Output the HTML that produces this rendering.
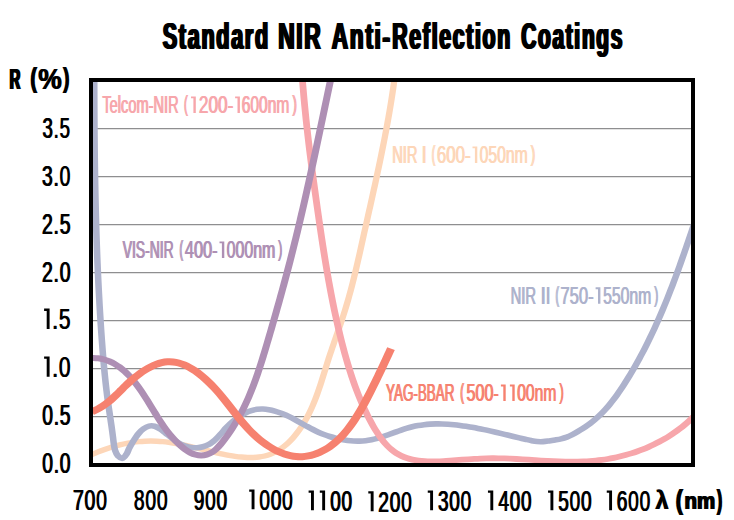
<!DOCTYPE html>
<html><head><meta charset="utf-8"><title>Standard NIR Anti-Reflection Coatings</title>
<style>
html,body{margin:0;padding:0;background:#fff;}
body{width:734px;height:520px;overflow:hidden;font-family:"Liberation Sans",sans-serif;}
svg{display:block;font-family:"Liberation Sans",sans-serif;}
</style></head><body>
<svg width="734" height="520" viewBox="0 0 734 520">
<rect x="0" y="0" width="734" height="520" fill="#fff"/>
<defs><clipPath id="plot"><rect x="91" y="80" width="602" height="385"/></clipPath></defs>
<g>
<line x1="93" x2="691" y1="416.5" y2="416.5" stroke="#8e8e90" stroke-width="1.25"/>
<line x1="93" x2="691" y1="368.5" y2="368.5" stroke="#8e8e90" stroke-width="1.25"/>
<line x1="93" x2="691" y1="320.5" y2="320.5" stroke="#8e8e90" stroke-width="1.25"/>
<line x1="93" x2="691" y1="272.5" y2="272.5" stroke="#8e8e90" stroke-width="1.25"/>
<line x1="93" x2="691" y1="224.5" y2="224.5" stroke="#8e8e90" stroke-width="1.25"/>
<line x1="93" x2="691" y1="176.5" y2="176.5" stroke="#8e8e90" stroke-width="1.25"/>
<line x1="93" x2="691" y1="128.5" y2="128.5" stroke="#8e8e90" stroke-width="1.25"/>
</g>
<g clip-path="url(#plot)"><g transform="scale(1.170,1)">
<path d="M78.54 454.52C79.34 454.13 81.73 452.90 83.34 452.14C84.96 451.38 86.59 450.65 88.23 449.96C89.87 449.26 91.52 448.60 93.18 447.98C94.84 447.35 96.52 446.76 98.20 446.22C99.87 445.67 101.56 445.16 103.26 444.69C104.95 444.22 106.65 443.80 108.36 443.41C110.06 443.03 111.77 442.69 113.49 442.39C115.20 442.10 116.91 441.85 118.63 441.65C120.35 441.45 122.06 441.29 123.78 441.19C125.50 441.09 127.21 441.03 128.93 441.03C130.64 441.03 132.35 441.08 134.06 441.19C135.76 441.29 137.47 441.44 139.17 441.64C140.87 441.83 142.57 442.07 144.27 442.35C145.97 442.62 147.67 442.94 149.37 443.28C151.06 443.62 152.76 444.00 154.46 444.40C156.15 444.79 157.85 445.22 159.55 445.66C161.25 446.10 162.95 446.56 164.65 447.02C166.35 447.49 168.06 447.98 169.76 448.46C171.47 448.94 173.18 449.43 174.89 449.92C176.61 450.41 178.32 450.90 180.04 451.37C181.76 451.85 183.49 452.32 185.22 452.78C186.95 453.23 188.69 453.68 190.43 454.09C192.17 454.51 193.92 454.92 195.67 455.28C197.43 455.65 199.18 456.00 200.94 456.29C202.69 456.58 204.44 456.84 206.18 457.04C207.92 457.23 209.66 457.38 211.38 457.45C213.09 457.53 214.80 457.54 216.49 457.47C218.17 457.39 219.84 457.25 221.47 457.00C223.11 456.76 224.73 456.43 226.31 455.99C227.89 455.55 229.44 455.01 230.95 454.36C232.46 453.70 233.94 452.93 235.37 452.06C236.81 451.19 238.21 450.20 239.58 449.14C240.94 448.08 242.27 446.91 243.56 445.67C244.85 444.43 246.10 443.10 247.31 441.71C248.53 440.32 249.70 438.85 250.84 437.32C251.98 435.80 253.08 434.21 254.15 432.58C255.21 430.94 256.24 429.25 257.22 427.53C258.21 425.81 259.16 424.04 260.07 422.25C260.98 420.46 261.85 418.63 262.69 416.79C263.52 414.96 264.32 413.10 265.08 411.23C265.84 409.36 266.56 407.47 267.26 405.58C267.96 403.68 268.62 401.77 269.27 399.86C269.91 397.94 270.53 396.01 271.13 394.08C271.73 392.15 272.30 390.21 272.86 388.26C273.43 386.32 273.97 384.37 274.51 382.42C275.05 380.47 275.58 378.51 276.10 376.56C276.63 374.61 277.14 372.65 277.66 370.70C278.18 368.75 278.69 366.80 279.21 364.86C279.73 362.92 280.26 360.98 280.79 359.05C281.33 357.12 281.87 355.20 282.42 353.28C282.97 351.37 283.52 349.45 284.08 347.55C284.64 345.64 285.21 343.74 285.77 341.83C286.33 339.93 286.90 338.03 287.46 336.14C288.03 334.24 288.59 332.34 289.15 330.44C289.71 328.55 290.27 326.65 290.83 324.75C291.38 322.85 291.93 320.95 292.46 319.04C293.00 317.14 293.54 315.23 294.06 313.32C294.58 311.40 295.09 309.49 295.59 307.56C296.09 305.64 296.58 303.71 297.06 301.77C297.54 299.84 298.01 297.90 298.47 295.96C298.93 294.01 299.38 292.06 299.83 290.11C300.27 288.16 300.71 286.20 301.14 284.24C301.57 282.28 301.99 280.32 302.40 278.35C302.82 276.39 303.23 274.42 303.63 272.45C304.04 270.48 304.44 268.50 304.83 266.53C305.23 264.55 305.62 262.58 306.01 260.60C306.40 258.62 306.78 256.64 307.16 254.66C307.54 252.68 307.92 250.69 308.30 248.71C308.68 246.73 309.06 244.75 309.43 242.76C309.81 240.78 310.18 238.80 310.56 236.82C310.94 234.84 311.31 232.85 311.69 230.87C312.07 228.89 312.45 226.91 312.82 224.94C313.20 222.96 313.58 220.98 313.96 219.00C314.34 217.02 314.71 215.05 315.09 213.07C315.47 211.09 315.85 209.12 316.23 207.14C316.60 205.16 316.98 203.19 317.35 201.21C317.73 199.24 318.11 197.26 318.48 195.29C318.85 193.31 319.23 191.34 319.60 189.36C319.97 187.38 320.34 185.41 320.71 183.43C321.08 181.46 321.44 179.48 321.81 177.51C322.17 175.53 322.54 173.55 322.90 171.58C323.26 169.60 323.62 167.62 323.97 165.65C324.33 163.67 324.68 161.69 325.03 159.71C325.39 157.73 325.73 155.75 326.08 153.77C326.43 151.79 326.77 149.81 327.11 147.83C327.45 145.85 327.79 143.87 328.12 141.89C328.45 139.90 328.78 137.92 329.11 135.93C329.43 133.95 329.76 131.96 330.07 129.97C330.39 127.99 330.71 126.00 331.02 124.01C331.33 122.02 331.63 120.03 331.94 118.04C332.24 116.04 332.53 114.05 332.83 112.06C333.12 110.06 333.41 108.06 333.69 106.07C333.97 104.07 334.25 102.07 334.52 100.07C334.79 98.06 335.06 96.06 335.32 94.06C335.58 92.05 335.84 90.04 336.09 88.04C336.34 86.03 336.58 84.02 336.82 82.00C337.06 79.99 337.40 76.97 337.52 75.96" fill="none" stroke="#FDD6B8" stroke-width="5.4" stroke-linejoin="round"/>
<path d="M80.53 75.97C80.54 76.99 80.54 80.03 80.55 82.05C80.55 84.08 80.56 86.10 80.56 88.13C80.57 90.15 80.57 92.18 80.58 94.20C80.58 96.22 80.59 98.25 80.60 100.27C80.60 102.29 80.61 104.31 80.62 106.33C80.63 108.36 80.64 110.38 80.65 112.40C80.66 114.42 80.67 116.44 80.68 118.45C80.69 120.47 80.70 122.49 80.71 124.51C80.73 126.53 80.74 128.55 80.75 130.56C80.77 132.58 80.78 134.60 80.80 136.61C80.81 138.63 80.83 140.65 80.85 142.66C80.87 144.68 80.88 146.69 80.90 148.71C80.92 150.72 80.94 152.74 80.96 154.75C80.98 156.77 81.01 158.78 81.03 160.80C81.05 162.81 81.08 164.82 81.10 166.84C81.13 168.85 81.15 170.87 81.18 172.88C81.21 174.89 81.24 176.90 81.27 178.92C81.30 180.93 81.33 182.94 81.36 184.96C81.39 186.97 81.43 188.98 81.46 190.99C81.50 193.00 81.53 195.02 81.57 197.03C81.61 199.04 81.65 201.05 81.69 203.07C81.73 205.08 81.77 207.09 81.81 209.10C81.85 211.11 81.90 213.13 81.94 215.14C81.99 217.15 82.04 219.16 82.08 221.17C82.13 223.19 82.18 225.20 82.23 227.21C82.29 229.22 82.34 231.23 82.39 233.25C82.45 235.26 82.51 237.27 82.56 239.29C82.62 241.30 82.68 243.31 82.74 245.32C82.80 247.34 82.87 249.35 82.93 251.36C83.00 253.38 83.06 255.39 83.13 257.41C83.20 259.42 83.27 261.43 83.34 263.45C83.42 265.46 83.49 267.48 83.56 269.49C83.64 271.51 83.72 273.52 83.80 275.54C83.88 277.55 83.96 279.57 84.04 281.59C84.13 283.60 84.21 285.62 84.30 287.64C84.39 289.65 84.48 291.67 84.57 293.69C84.66 295.71 84.75 297.73 84.85 299.74C84.94 301.76 85.04 303.78 85.14 305.80C85.24 307.82 85.34 309.84 85.45 311.86C85.55 313.89 85.66 315.91 85.77 317.93C85.88 319.95 85.99 321.97 86.10 324.00C86.22 326.02 86.33 328.04 86.45 330.07C86.57 332.09 86.69 334.12 86.81 336.14C86.93 338.17 87.06 340.19 87.19 342.22C87.32 344.25 87.45 346.27 87.58 348.30C87.71 350.33 87.85 352.35 87.99 354.38C88.13 356.40 88.28 358.42 88.43 360.44C88.57 362.46 88.73 364.48 88.89 366.49C89.04 368.51 89.20 370.52 89.37 372.52C89.54 374.53 89.71 376.53 89.89 378.53C90.07 380.53 90.25 382.52 90.44 384.51C90.63 386.50 90.83 388.48 91.03 390.46C91.23 392.43 91.44 394.40 91.66 396.36C91.87 398.32 92.10 400.27 92.32 402.22C92.55 404.17 92.79 406.11 93.03 408.05C93.27 410.00 93.52 411.94 93.76 413.89C94.01 415.84 94.26 417.79 94.51 419.76C94.75 421.74 95.00 423.71 95.25 425.72C95.49 427.72 95.74 429.74 95.97 431.79C96.21 433.83 96.44 435.91 96.67 438.01C96.90 440.11 97.05 442.30 97.34 444.40C97.63 446.49 97.86 448.67 98.42 450.57C98.98 452.47 99.66 454.50 100.71 455.80C101.75 457.10 103.44 458.63 104.68 458.35C105.92 458.07 107.18 455.82 108.15 454.11C109.12 452.41 109.71 449.96 110.51 448.12C111.31 446.28 112.11 444.73 112.96 443.07C113.80 441.40 114.65 439.80 115.60 438.15C116.55 436.51 117.51 434.75 118.67 433.20C119.83 431.65 121.13 430.05 122.57 428.87C124.01 427.69 125.71 426.55 127.32 426.11C128.92 425.67 130.62 425.75 132.21 426.23C133.80 426.71 135.35 427.91 136.86 429.00C138.37 430.10 139.82 431.52 141.26 432.81C142.69 434.10 144.08 435.48 145.48 436.77C146.88 438.06 148.25 439.37 149.67 440.54C151.08 441.72 152.50 442.86 153.98 443.80C155.46 444.75 156.97 445.59 158.55 446.22C160.13 446.84 161.79 447.28 163.45 447.53C165.11 447.77 166.83 447.83 168.51 447.70C170.18 447.56 171.87 447.24 173.48 446.72C175.09 446.21 176.69 445.50 178.16 444.61C179.64 443.71 181.02 442.59 182.35 441.36C183.67 440.13 184.88 438.69 186.10 437.23C187.32 435.77 188.46 434.17 189.66 432.61C190.85 431.04 192.02 429.41 193.26 427.87C194.50 426.32 195.78 424.79 197.10 423.36C198.43 421.92 199.80 420.54 201.21 419.26C202.61 417.98 204.06 416.76 205.55 415.68C207.03 414.60 208.55 413.60 210.10 412.75C211.64 411.91 213.23 411.17 214.83 410.60C216.43 410.03 218.07 409.59 219.72 409.33C221.37 409.08 223.06 409.00 224.74 409.06C226.42 409.12 228.13 409.35 229.82 409.68C231.51 410.01 233.21 410.49 234.88 411.04C236.56 411.59 238.23 412.26 239.86 412.97C241.49 413.69 243.09 414.49 244.67 415.32C246.25 416.15 247.79 417.05 249.33 417.96C250.87 418.88 252.38 419.84 253.89 420.80C255.40 421.77 256.89 422.76 258.40 423.74C259.90 424.72 261.39 425.72 262.90 426.68C264.41 427.64 265.92 428.60 267.46 429.52C268.99 430.43 270.54 431.32 272.11 432.15C273.68 432.98 275.28 433.77 276.90 434.49C278.52 435.22 280.17 435.89 281.83 436.50C283.49 437.11 285.17 437.67 286.85 438.17C288.54 438.67 290.24 439.12 291.94 439.50C293.64 439.88 295.34 440.21 297.05 440.46C298.75 440.71 300.47 440.89 302.17 441.00C303.88 441.10 305.59 441.14 307.29 441.09C309.00 441.03 310.70 440.90 312.39 440.67C314.08 440.45 315.77 440.12 317.45 439.72C319.12 439.33 320.79 438.83 322.46 438.29C324.13 437.76 325.79 437.14 327.44 436.51C329.10 435.87 330.76 435.18 332.41 434.50C334.06 433.81 335.71 433.09 337.37 432.39C339.02 431.70 340.67 430.99 342.33 430.33C343.99 429.67 345.65 429.01 347.31 428.43C348.98 427.84 350.65 427.29 352.32 426.82C354.00 426.35 355.68 425.94 357.37 425.59C359.05 425.24 360.75 424.95 362.44 424.71C364.14 424.47 365.84 424.30 367.54 424.16C369.24 424.03 370.95 423.95 372.66 423.92C374.37 423.88 376.08 423.89 377.79 423.95C379.50 424.00 381.22 424.09 382.93 424.22C384.65 424.35 386.36 424.52 388.07 424.72C389.79 424.92 391.50 425.16 393.21 425.42C394.93 425.68 396.64 425.97 398.35 426.28C400.05 426.60 401.76 426.94 403.46 427.29C405.17 427.65 406.87 428.02 408.56 428.41C410.26 428.80 411.95 429.21 413.63 429.63C415.32 430.04 417.00 430.47 418.68 430.91C420.36 431.35 422.04 431.79 423.72 432.25C425.40 432.70 427.07 433.16 428.74 433.62C430.42 434.09 432.09 434.56 433.77 435.03C435.44 435.50 437.12 435.97 438.79 436.44C440.47 436.91 442.15 437.38 443.83 437.85C445.51 438.32 447.20 438.78 448.88 439.24C450.57 439.69 452.26 440.19 453.96 440.58C455.66 440.97 457.36 441.38 459.06 441.56C460.77 441.73 462.48 441.74 464.19 441.64C465.91 441.53 467.62 441.20 469.34 440.92C471.05 440.65 472.78 440.33 474.49 439.99C476.19 439.66 477.90 439.37 479.57 438.89C481.23 438.41 482.88 437.84 484.48 437.13C486.08 436.41 487.64 435.51 489.18 434.60C490.72 433.69 492.23 432.68 493.73 431.66C495.23 430.65 496.70 429.61 498.15 428.53C499.60 427.44 501.03 426.33 502.42 425.16C503.81 424.00 505.18 422.79 506.51 421.54C507.84 420.29 509.13 418.99 510.40 417.65C511.67 416.31 512.90 414.92 514.10 413.51C515.31 412.09 516.48 410.62 517.63 409.13C518.78 407.64 519.90 406.12 521.00 404.56C522.10 403.01 523.18 401.43 524.23 399.82C525.28 398.22 526.31 396.59 527.32 394.94C528.34 393.29 529.33 391.62 530.30 389.94C531.28 388.25 532.23 386.55 533.18 384.84C534.12 383.14 535.05 381.41 535.97 379.69C536.89 377.96 537.79 376.23 538.68 374.49C539.57 372.76 540.46 371.01 541.32 369.26C542.19 367.51 543.05 365.76 543.90 364.00C544.75 362.24 545.58 360.47 546.41 358.70C547.23 356.93 548.05 355.15 548.85 353.37C549.66 351.59 550.45 349.80 551.23 348.01C552.02 346.22 552.79 344.42 553.56 342.62C554.32 340.81 555.08 339.01 555.83 337.20C556.57 335.38 557.31 333.57 558.04 331.75C558.77 329.93 559.49 328.10 560.20 326.27C560.91 324.44 561.62 322.61 562.31 320.77C563.01 318.93 563.70 317.09 564.38 315.25C565.06 313.40 565.74 311.55 566.40 309.70C567.07 307.85 567.73 305.99 568.38 304.13C569.04 302.27 569.68 300.40 570.32 298.54C570.97 296.67 571.60 294.80 572.23 292.93C572.86 291.05 573.48 289.18 574.10 287.30C574.72 285.42 575.33 283.53 575.94 281.65C576.55 279.76 577.15 277.87 577.75 275.98C578.35 274.09 578.94 272.20 579.53 270.30C580.12 268.41 580.71 266.51 581.29 264.61C581.87 262.71 582.45 260.81 583.02 258.90C583.60 257.00 584.17 255.09 584.74 253.18C585.31 251.27 585.87 249.36 586.44 247.45C587.00 245.54 587.56 243.62 588.12 241.71C588.68 239.79 589.24 237.88 589.80 235.96C590.35 234.04 590.90 232.12 591.46 230.20C592.01 228.28 592.84 225.40 593.11 224.44" fill="none" stroke="#ADB2CC" stroke-width="5.6" stroke-linejoin="round"/>
<path d="M258.27 76.01C258.33 77.02 258.52 80.05 258.65 82.07C258.79 84.09 258.93 86.11 259.07 88.13C259.21 90.15 259.36 92.17 259.51 94.19C259.66 96.21 259.81 98.23 259.97 100.25C260.13 102.26 260.29 104.28 260.46 106.30C260.63 108.32 260.80 110.34 260.97 112.35C261.14 114.37 261.32 116.39 261.50 118.41C261.68 120.42 261.87 122.44 262.05 124.46C262.24 126.47 262.43 128.49 262.62 130.50C262.82 132.52 263.01 134.53 263.21 136.55C263.41 138.56 263.62 140.58 263.82 142.59C264.03 144.61 264.23 146.62 264.44 148.64C264.65 150.65 264.87 152.67 265.08 154.68C265.30 156.69 265.52 158.71 265.74 160.72C265.96 162.73 266.18 164.74 266.40 166.76C266.63 168.77 266.85 170.78 267.08 172.79C267.31 174.81 267.54 176.82 267.77 178.83C268.00 180.84 268.23 182.85 268.47 184.86C268.70 186.87 268.94 188.88 269.18 190.89C269.41 192.90 269.65 194.91 269.89 196.92C270.13 198.93 270.37 200.94 270.61 202.95C270.86 204.96 271.10 206.97 271.34 208.98C271.59 210.99 271.83 213.00 272.08 215.00C272.32 217.01 272.57 219.02 272.82 221.03C273.07 223.04 273.32 225.04 273.57 227.05C273.82 229.06 274.07 231.06 274.33 233.07C274.58 235.07 274.84 237.08 275.10 239.08C275.36 241.09 275.62 243.09 275.88 245.09C276.15 247.10 276.41 249.10 276.68 251.10C276.95 253.10 277.23 255.10 277.50 257.11C277.78 259.11 278.06 261.11 278.34 263.10C278.62 265.10 278.91 267.10 279.20 269.10C279.48 271.10 279.78 273.09 280.08 275.09C280.37 277.08 280.67 279.08 280.98 281.07C281.29 283.06 281.60 285.06 281.91 287.05C282.23 289.04 282.54 291.03 282.87 293.02C283.19 295.01 283.52 296.99 283.86 298.98C284.19 300.97 284.53 302.95 284.88 304.94C285.22 306.92 285.57 308.90 285.93 310.89C286.29 312.87 286.65 314.85 287.02 316.83C287.38 318.81 287.76 320.78 288.14 322.76C288.52 324.73 288.91 326.71 289.30 328.68C289.70 330.66 290.10 332.63 290.51 334.60C290.91 336.57 291.33 338.53 291.75 340.50C292.17 342.47 292.60 344.43 293.04 346.40C293.48 348.36 293.93 350.32 294.38 352.28C294.84 354.23 295.30 356.19 295.78 358.14C296.25 360.09 296.74 362.04 297.24 363.99C297.73 365.93 298.24 367.87 298.76 369.81C299.28 371.75 299.81 373.68 300.36 375.61C300.91 377.54 301.47 379.46 302.04 381.38C302.61 383.30 303.20 385.21 303.80 387.12C304.41 389.03 305.02 390.93 305.66 392.83C306.29 394.73 306.94 396.62 307.61 398.50C308.28 400.38 308.96 402.26 309.66 404.13C310.37 406.00 311.09 407.86 311.83 409.72C312.57 411.57 313.32 413.42 314.10 415.26C314.88 417.10 315.68 418.93 316.50 420.75C317.32 422.57 318.16 424.39 319.03 426.18C319.90 427.97 320.79 429.74 321.72 431.47C322.64 433.20 323.60 434.91 324.59 436.55C325.59 438.19 326.62 439.80 327.70 441.33C328.77 442.86 329.89 444.34 331.05 445.74C332.22 447.13 333.43 448.46 334.69 449.69C335.96 450.91 337.28 452.06 338.65 453.10C340.03 454.13 341.47 455.07 342.96 455.89C344.46 456.72 346.02 457.42 347.62 458.04C349.22 458.65 350.88 459.16 352.56 459.59C354.24 460.02 355.97 460.35 357.70 460.62C359.44 460.89 361.20 461.07 362.97 461.21C364.73 461.34 366.52 461.40 368.31 461.43C370.10 461.45 371.90 461.41 373.70 461.35C375.49 461.29 377.30 461.18 379.09 461.07C380.89 460.95 382.69 460.80 384.47 460.65C386.25 460.50 388.03 460.34 389.79 460.18C391.55 460.02 393.30 459.87 395.04 459.71C396.78 459.56 398.51 459.42 400.23 459.28C401.96 459.14 403.67 459.01 405.39 458.90C407.10 458.78 408.80 458.67 410.51 458.58C412.22 458.50 413.92 458.42 415.63 458.37C417.34 458.32 419.04 458.28 420.75 458.27C422.46 458.26 424.18 458.27 425.90 458.30C427.62 458.33 429.34 458.38 431.06 458.44C432.78 458.51 434.51 458.59 436.24 458.68C437.97 458.77 439.70 458.87 441.43 458.98C443.16 459.09 444.90 459.21 446.64 459.34C448.37 459.46 450.11 459.60 451.85 459.73C453.59 459.86 455.33 460.00 457.07 460.13C458.81 460.27 460.55 460.40 462.30 460.53C464.04 460.66 465.78 460.78 467.53 460.90C469.27 461.02 471.01 461.13 472.76 461.23C474.50 461.32 476.24 461.41 477.98 461.49C479.73 461.56 481.47 461.62 483.21 461.66C484.95 461.71 486.69 461.73 488.43 461.74C490.17 461.74 491.90 461.73 493.64 461.69C495.37 461.65 497.11 461.59 498.84 461.49C500.57 461.40 502.30 461.29 504.03 461.14C505.75 460.99 507.48 460.81 509.20 460.60C510.92 460.39 512.64 460.15 514.35 459.88C516.06 459.61 517.77 459.31 519.47 458.97C521.18 458.64 522.88 458.27 524.57 457.87C526.26 457.47 527.94 457.04 529.62 456.57C531.30 456.11 532.97 455.61 534.63 455.08C536.29 454.55 537.95 453.99 539.59 453.39C541.24 452.79 542.87 452.16 544.50 451.49C546.12 450.83 547.73 450.13 549.34 449.39C550.94 448.66 552.53 447.89 554.11 447.08C555.69 446.28 557.26 445.44 558.81 444.57C560.36 443.69 561.91 442.78 563.43 441.83C564.96 440.89 566.47 439.90 567.97 438.88C569.46 437.87 570.94 436.81 572.41 435.72C573.87 434.62 575.32 433.49 576.75 432.33C578.19 431.16 579.60 429.96 581.00 428.71C582.39 427.47 583.77 426.19 585.13 424.87C586.49 423.55 587.83 422.20 589.15 420.80C590.46 419.41 592.39 417.22 593.04 416.50" fill="none" stroke="#F7A6AB" stroke-width="5.8" stroke-linejoin="round"/>
<path d="M78.52 357.91C79.42 357.98 82.19 358.03 83.94 358.30C85.70 358.56 87.39 358.98 89.03 359.51C90.67 360.04 92.26 360.71 93.79 361.48C95.33 362.25 96.82 363.15 98.26 364.13C99.70 365.12 101.10 366.21 102.45 367.38C103.81 368.56 105.12 369.83 106.39 371.16C107.67 372.50 108.90 373.92 110.11 375.40C111.31 376.87 112.47 378.42 113.61 380.01C114.75 381.59 115.86 383.24 116.94 384.92C118.02 386.59 119.07 388.31 120.11 390.05C121.14 391.79 122.15 393.56 123.14 395.34C124.13 397.11 125.10 398.91 126.06 400.70C127.01 402.49 127.95 404.28 128.89 406.06C129.82 407.84 130.73 409.61 131.66 411.36C132.58 413.11 133.49 414.86 134.42 416.58C135.35 418.30 136.28 420.01 137.23 421.70C138.19 423.39 139.15 425.06 140.15 426.70C141.14 428.35 142.15 429.98 143.21 431.57C144.26 433.17 145.34 434.74 146.47 436.29C147.60 437.83 148.77 439.35 150.00 440.83C151.22 442.31 152.49 443.78 153.83 445.18C155.16 446.59 156.56 448.01 158.00 449.25C159.45 450.48 160.95 451.68 162.48 452.59C164.02 453.51 165.61 454.25 167.20 454.73C168.79 455.20 170.42 455.45 172.00 455.44C173.58 455.43 175.18 455.18 176.70 454.67C178.21 454.17 179.69 453.38 181.09 452.39C182.48 451.40 183.80 450.10 185.08 448.72C186.35 447.34 187.55 445.73 188.72 444.12C189.90 442.51 191.02 440.78 192.11 439.08C193.21 437.38 194.27 435.66 195.30 433.93C196.33 432.20 197.33 430.45 198.30 428.70C199.27 426.94 200.21 425.17 201.12 423.39C202.04 421.61 202.92 419.82 203.78 418.02C204.64 416.22 205.47 414.40 206.28 412.58C207.09 410.75 207.88 408.92 208.64 407.08C209.41 405.23 210.15 403.38 210.87 401.52C211.59 399.66 212.29 397.79 212.97 395.91C213.65 394.04 214.31 392.15 214.96 390.26C215.61 388.37 216.24 386.47 216.85 384.56C217.47 382.65 218.06 380.74 218.65 378.82C219.24 376.91 219.81 374.98 220.37 373.06C220.94 371.13 221.48 369.19 222.03 367.26C222.57 365.32 223.10 363.38 223.62 361.44C224.15 359.49 224.66 357.54 225.17 355.59C225.68 353.64 226.18 351.69 226.69 349.74C227.19 347.78 227.68 345.83 228.17 343.87C228.67 341.91 229.16 339.95 229.65 338.00C230.14 336.04 230.63 334.08 231.12 332.12C231.60 330.16 232.09 328.20 232.57 326.24C233.06 324.28 233.54 322.32 234.02 320.35C234.51 318.39 234.99 316.43 235.47 314.47C235.94 312.50 236.42 310.54 236.90 308.57C237.37 306.61 237.84 304.64 238.32 302.68C238.79 300.71 239.26 298.75 239.72 296.78C240.19 294.81 240.66 292.84 241.12 290.88C241.58 288.91 242.04 286.94 242.50 284.97C242.96 283.00 243.41 281.03 243.87 279.05C244.32 277.08 244.77 275.11 245.22 273.14C245.67 271.16 246.11 269.19 246.55 267.22C247.00 265.24 247.43 263.26 247.87 261.29C248.31 259.31 248.74 257.33 249.17 255.36C249.60 253.38 250.03 251.40 250.46 249.42C250.88 247.44 251.30 245.46 251.72 243.48C252.14 241.49 252.56 239.51 252.97 237.53C253.39 235.55 253.80 233.56 254.21 231.58C254.62 229.59 255.03 227.61 255.43 225.62C255.84 223.64 256.24 221.65 256.64 219.66C257.04 217.68 257.44 215.69 257.83 213.70C258.23 211.71 258.62 209.72 259.02 207.73C259.41 205.74 259.80 203.75 260.19 201.76C260.58 199.77 260.96 197.78 261.35 195.79C261.73 193.80 262.11 191.81 262.49 189.81C262.88 187.82 263.26 185.83 263.63 183.84C264.01 181.84 264.39 179.85 264.76 177.85C265.14 175.86 265.51 173.86 265.89 171.87C266.26 169.87 266.63 167.88 267.00 165.88C267.37 163.89 267.74 161.89 268.11 159.90C268.48 157.90 268.84 155.90 269.21 153.91C269.57 151.91 269.94 149.91 270.30 147.92C270.67 145.92 271.03 143.92 271.39 141.92C271.76 139.93 272.12 137.93 272.48 135.93C272.84 133.93 273.20 131.93 273.56 129.94C273.92 127.94 274.28 125.94 274.64 123.94C275.00 121.94 275.36 119.94 275.72 117.95C276.08 115.95 276.44 113.95 276.80 111.95C277.15 109.95 277.51 107.95 277.87 105.95C278.23 103.96 278.59 101.96 278.95 99.96C279.31 97.96 279.66 95.96 280.02 93.96C280.38 91.97 280.74 89.97 281.10 87.97C281.46 85.97 281.82 83.97 282.18 81.98C282.54 79.98 283.08 76.98 283.26 75.98" fill="none" stroke="#AE8FB4" stroke-width="6.0" stroke-linejoin="round"/>
<path d="M78.62 411.68C79.43 411.26 81.93 410.06 83.47 409.12C85.02 408.18 86.48 407.14 87.90 406.04C89.32 404.94 90.67 403.76 92.00 402.53C93.33 401.31 94.60 400.02 95.87 398.70C97.14 397.37 98.37 396.00 99.61 394.61C100.84 393.22 102.06 391.79 103.30 390.36C104.55 388.93 105.78 387.48 107.06 386.04C108.34 384.60 109.63 383.15 110.98 381.73C112.32 380.32 113.70 378.90 115.12 377.54C116.54 376.18 117.99 374.84 119.47 373.58C120.95 372.32 122.47 371.10 124.00 369.99C125.53 368.87 127.10 367.82 128.67 366.89C130.24 365.95 131.83 365.11 133.43 364.40C135.03 363.70 136.65 363.10 138.26 362.67C139.87 362.24 141.50 361.94 143.12 361.82C144.73 361.70 146.35 361.75 147.96 361.95C149.57 362.15 151.18 362.53 152.77 363.04C154.36 363.54 155.94 364.20 157.50 364.96C159.07 365.72 160.62 366.62 162.15 367.60C163.67 368.58 165.18 369.68 166.67 370.85C168.15 372.01 169.61 373.28 171.04 374.59C172.46 375.90 173.86 377.29 175.23 378.70C176.59 380.12 177.92 381.59 179.22 383.08C180.51 384.56 181.76 386.08 182.98 387.61C184.20 389.14 185.38 390.68 186.54 392.24C187.70 393.80 188.82 395.37 189.94 396.95C191.05 398.53 192.14 400.12 193.22 401.70C194.30 403.29 195.36 404.89 196.42 406.48C197.49 408.07 198.54 409.66 199.59 411.24C200.65 412.82 201.70 414.40 202.77 415.96C203.84 417.53 204.91 419.08 206.00 420.62C207.09 422.16 208.19 423.68 209.31 425.18C210.44 426.68 211.59 428.16 212.76 429.62C213.94 431.07 215.14 432.50 216.39 433.90C217.63 435.30 218.91 436.67 220.23 438.00C221.55 439.34 222.91 440.64 224.33 441.90C225.74 443.15 227.20 444.38 228.70 445.54C230.20 446.69 231.75 447.81 233.32 448.83C234.89 449.85 236.50 450.82 238.13 451.68C239.75 452.53 241.41 453.32 243.08 453.98C244.75 454.64 246.44 455.21 248.13 455.64C249.83 456.07 251.53 456.39 253.24 456.55C254.94 456.72 256.65 456.75 258.34 456.64C260.04 456.53 261.73 456.28 263.40 455.91C265.07 455.55 266.73 455.05 268.36 454.46C269.98 453.86 271.59 453.14 273.16 452.34C274.72 451.54 276.26 450.63 277.75 449.64C279.24 448.66 280.68 447.58 282.09 446.44C283.49 445.30 284.85 444.08 286.17 442.79C287.49 441.51 288.76 440.15 290.00 438.74C291.25 437.33 292.45 435.86 293.62 434.34C294.79 432.82 295.92 431.24 297.02 429.63C298.13 428.02 299.20 426.36 300.24 424.67C301.28 422.98 302.29 421.25 303.27 419.50C304.26 417.75 305.21 415.97 306.15 414.18C307.08 412.39 307.99 410.57 308.88 408.75C309.77 406.93 310.64 405.09 311.48 403.26C312.33 401.43 313.16 399.58 313.97 397.76C314.79 395.93 315.58 394.10 316.37 392.29C317.15 390.48 317.92 388.69 318.68 386.90C319.44 385.11 320.19 383.34 320.94 381.56C321.68 379.78 322.41 378.01 323.15 376.23C323.88 374.45 324.60 372.68 325.33 370.88C326.06 369.09 326.78 367.30 327.51 365.48C328.24 363.67 328.96 361.84 329.70 359.99C330.43 358.14 331.17 356.28 331.92 354.38C332.67 352.48 333.81 349.57 334.19 348.61" fill="none" stroke="#F6816F" stroke-width="7.0" stroke-linejoin="round"/>
</g></g>
<rect x="91" y="80" width="602" height="385" fill="none" stroke="#000" stroke-width="4"/>
<g>
<text transform="translate(161.75,48.80) scale(0.1079,0.1855)" font-size="200" fill="#000" font-weight="bold" letter-spacing="15.76">Standard</text>
<text transform="translate(162.75,48.80) scale(0.1079,0.1855)" font-size="200" fill="#000" font-weight="bold" letter-spacing="15.76">Standard</text>
<text transform="translate(163.75,48.80) scale(0.1079,0.1855)" font-size="200" fill="#000" font-weight="bold" letter-spacing="15.76">Standard</text>
<text transform="translate(277.22,48.80) scale(0.1138,0.1855)" font-size="200" fill="#000" font-weight="bold" letter-spacing="14.94">NIR</text>
<text transform="translate(278.22,48.80) scale(0.1138,0.1855)" font-size="200" fill="#000" font-weight="bold" letter-spacing="14.94">NIR</text>
<text transform="translate(279.22,48.80) scale(0.1138,0.1855)" font-size="200" fill="#000" font-weight="bold" letter-spacing="14.94">NIR</text>
<text transform="translate(330.83,48.80) scale(0.1131,0.1855)" font-size="200" fill="#000" font-weight="bold" letter-spacing="15.03">Anti-</text>
<text transform="translate(331.83,48.80) scale(0.1131,0.1855)" font-size="200" fill="#000" font-weight="bold" letter-spacing="15.03">Anti-</text>
<text transform="translate(332.83,48.80) scale(0.1131,0.1855)" font-size="200" fill="#000" font-weight="bold" letter-spacing="15.03">Anti-</text>
<text transform="translate(391.32,48.80) scale(0.1062,0.1855)" font-size="200" fill="#000" font-weight="bold" letter-spacing="16.01">Reflection</text>
<text transform="translate(392.32,48.80) scale(0.1062,0.1855)" font-size="200" fill="#000" font-weight="bold" letter-spacing="16.01">Reflection</text>
<text transform="translate(393.32,48.80) scale(0.1062,0.1855)" font-size="200" fill="#000" font-weight="bold" letter-spacing="16.01">Reflection</text>
<text transform="translate(520.16,48.80) scale(0.1045,0.1855)" font-size="200" fill="#000" font-weight="bold" letter-spacing="16.26">Coatings</text>
<text transform="translate(521.16,48.80) scale(0.1045,0.1855)" font-size="200" fill="#000" font-weight="bold" letter-spacing="16.26">Coatings</text>
<text transform="translate(522.16,48.80) scale(0.1045,0.1855)" font-size="200" fill="#000" font-weight="bold" letter-spacing="16.26">Coatings</text>
<text transform="translate(8.64,88.80) scale(0.0740,0.1457)" font-size="200" fill="#000" font-weight="bold">R</text>
<text transform="translate(9.54,88.80) scale(0.0740,0.1457)" font-size="200" fill="#000" font-weight="bold">R</text>
<text transform="translate(10.44,88.80) scale(0.0740,0.1457)" font-size="200" fill="#000" font-weight="bold">R</text>
<text transform="translate(29.82,87.09) scale(0.0982,0.1337)" font-size="200" fill="#000" font-weight="bold">(</text>
<text transform="translate(31.02,87.09) scale(0.0982,0.1337)" font-size="200" fill="#000" font-weight="bold">(</text>
<text transform="translate(37.84,88.71) scale(0.1321,0.1461)" font-size="200" fill="#000" font-weight="bold">%</text>
<text transform="translate(38.64,88.71) scale(0.1321,0.1461)" font-size="200" fill="#000" font-weight="bold">%</text>
<text transform="translate(62.40,87.09) scale(0.0982,0.1337)" font-size="200" fill="#000" font-weight="bold">)</text>
<text transform="translate(63.60,87.09) scale(0.0982,0.1337)" font-size="200" fill="#000" font-weight="bold">)</text>
<text transform="translate(41.73,472.70) scale(0.0962,0.1500)" font-size="200" fill="#000" letter-spacing="8.32">0.0</text>
<text transform="translate(42.63,472.70) scale(0.0962,0.1500)" font-size="200" fill="#000" letter-spacing="8.32">0.0</text>
<text transform="translate(41.73,424.90) scale(0.0962,0.1500)" font-size="200" fill="#000" letter-spacing="8.32">0.5</text>
<text transform="translate(42.63,424.90) scale(0.0962,0.1500)" font-size="200" fill="#000" letter-spacing="8.32">0.5</text>
<path d="M44.10 356.40H49.60V376.80H46.70V358.70H44.10Z" fill="#000"/>
<text transform="translate(51.82,377.10) scale(0.1043,0.1500)" font-size="200" fill="#000" letter-spacing="7.67">.0</text>
<text transform="translate(52.72,377.10) scale(0.1043,0.1500)" font-size="200" fill="#000" letter-spacing="7.67">.0</text>
<path d="M44.10 308.60H49.60V329.00H46.70V310.90H44.10Z" fill="#000"/>
<text transform="translate(51.82,329.30) scale(0.1043,0.1500)" font-size="200" fill="#000" letter-spacing="7.67">.5</text>
<text transform="translate(52.72,329.30) scale(0.1043,0.1500)" font-size="200" fill="#000" letter-spacing="7.67">.5</text>
<text transform="translate(41.53,281.50) scale(0.0969,0.1500)" font-size="200" fill="#000" letter-spacing="8.25">2.0</text>
<text transform="translate(42.43,281.50) scale(0.0969,0.1500)" font-size="200" fill="#000" letter-spacing="8.25">2.0</text>
<text transform="translate(41.53,233.70) scale(0.0969,0.1500)" font-size="200" fill="#000" letter-spacing="8.25">2.5</text>
<text transform="translate(42.43,233.70) scale(0.0969,0.1500)" font-size="200" fill="#000" letter-spacing="8.25">2.5</text>
<text transform="translate(41.53,185.90) scale(0.0962,0.1500)" font-size="200" fill="#000" letter-spacing="8.32">3.0</text>
<text transform="translate(42.43,185.90) scale(0.0962,0.1500)" font-size="200" fill="#000" letter-spacing="8.32">3.0</text>
<text transform="translate(42.05,138.10) scale(0.0931,0.1500)" font-size="200" fill="#000" letter-spacing="8.59">3.5</text>
<text transform="translate(42.95,138.10) scale(0.0931,0.1500)" font-size="200" fill="#000" letter-spacing="8.59">3.5</text>
<text transform="translate(72.53,509.50) scale(0.0971,0.1450)" font-size="200" fill="#000" letter-spacing="8.24">700</text>
<text transform="translate(73.43,509.50) scale(0.0971,0.1450)" font-size="200" fill="#000" letter-spacing="8.24">700</text>
<text transform="translate(133.43,509.50) scale(0.0962,0.1450)" font-size="200" fill="#000" letter-spacing="8.32">800</text>
<text transform="translate(134.33,509.50) scale(0.0962,0.1450)" font-size="200" fill="#000" letter-spacing="8.32">800</text>
<text transform="translate(193.24,509.50) scale(0.0953,0.1450)" font-size="200" fill="#000" letter-spacing="8.40">900</text>
<text transform="translate(194.14,509.50) scale(0.0953,0.1450)" font-size="200" fill="#000" letter-spacing="8.40">900</text>
<path d="M249.20 489.50H254.50V509.20H251.60V491.80H249.20Z" fill="#000"/>
<text transform="translate(258.94,509.50) scale(0.0950,0.1450)" font-size="200" fill="#000" letter-spacing="8.43">000</text>
<text transform="translate(259.84,509.50) scale(0.0950,0.1450)" font-size="200" fill="#000" letter-spacing="8.43">000</text>
<path d="M308.60 490.50H313.90V510.30H311.00V492.80H308.60Z" fill="#000"/>
<path d="M319.80 490.50H325.10V510.30H322.20V492.80H319.80Z" fill="#000"/>
<text transform="translate(329.74,510.60) scale(0.0947,0.1457)" font-size="200" fill="#000" letter-spacing="8.45">00</text>
<text transform="translate(330.64,510.60) scale(0.0947,0.1457)" font-size="200" fill="#000" letter-spacing="8.45">00</text>
<path d="M368.30 491.30H373.60V511.20H370.70V493.60H368.30Z" fill="#000"/>
<text transform="translate(377.84,511.50) scale(0.0956,0.1464)" font-size="200" fill="#000" letter-spacing="8.37">200</text>
<text transform="translate(378.74,511.50) scale(0.0956,0.1464)" font-size="200" fill="#000" letter-spacing="8.37">200</text>
<path d="M427.75 490.50H433.05V510.30H430.15V492.80H427.75Z" fill="#000"/>
<text transform="translate(437.49,510.60) scale(0.0950,0.1457)" font-size="200" fill="#000" letter-spacing="8.43">300</text>
<text transform="translate(438.39,510.60) scale(0.0950,0.1457)" font-size="200" fill="#000" letter-spacing="8.43">300</text>
<path d="M487.95 490.50H493.25V510.30H490.35V492.80H487.95Z" fill="#000"/>
<text transform="translate(497.98,510.60) scale(0.0941,0.1457)" font-size="200" fill="#000" letter-spacing="8.50">400</text>
<text transform="translate(498.88,510.60) scale(0.0941,0.1457)" font-size="200" fill="#000" letter-spacing="8.50">400</text>
<path d="M548.05 490.50H553.35V510.30H550.45V492.80H548.05Z" fill="#000"/>
<text transform="translate(557.79,510.60) scale(0.0950,0.1457)" font-size="200" fill="#000" letter-spacing="8.43">500</text>
<text transform="translate(558.69,510.60) scale(0.0950,0.1457)" font-size="200" fill="#000" letter-spacing="8.43">500</text>
<path d="M606.75 490.50H612.05V510.30H609.15V492.80H606.75Z" fill="#000"/>
<text transform="translate(616.29,510.60) scale(0.0956,0.1457)" font-size="200" fill="#000" letter-spacing="8.37">600</text>
<text transform="translate(617.19,510.60) scale(0.0956,0.1457)" font-size="200" fill="#000" letter-spacing="8.37">600</text>
<text transform="translate(654.88,509.30) scale(0.1168,0.1273)" font-size="200" fill="#000" font-weight="bold">λ</text>
<text transform="translate(655.88,509.30) scale(0.1168,0.1273)" font-size="200" fill="#000" font-weight="bold">λ</text>
<text transform="translate(674.99,508.59) scale(0.1107,0.1337)" font-size="200" fill="#000" font-weight="bold">(</text>
<text transform="translate(676.19,508.59) scale(0.1107,0.1337)" font-size="200" fill="#000" font-weight="bold">(</text>
<text transform="translate(683.87,509.30) scale(0.1022,0.1217)" font-size="200" fill="#000" font-weight="bold">nm</text>
<text transform="translate(685.27,509.30) scale(0.1022,0.1217)" font-size="200" fill="#000" font-weight="bold">nm</text>
<text transform="translate(716.22,508.59) scale(0.0804,0.1337)" font-size="200" fill="#000" font-weight="bold">)</text>
<text transform="translate(717.42,508.59) scale(0.0804,0.1337)" font-size="200" fill="#000" font-weight="bold">)</text>
<text transform="translate(101.91,113.00) scale(0.0731,0.1203)" font-size="200" fill="#F7A6AB">Telcom-NIR</text>
<text transform="translate(102.81,113.00) scale(0.0731,0.1203)" font-size="200" fill="#F7A6AB">Telcom-NIR</text>
<text transform="translate(183.38,110.91) scale(0.0604,0.1070)" font-size="200" fill="#F7A6AB">(</text>
<text transform="translate(184.28,110.91) scale(0.0604,0.1070)" font-size="200" fill="#F7A6AB">(</text>
<path d="M191.00 96.40H195.80V113.00H193.40V98.30H191.00Z" fill="#F7A6AB"/>
<text transform="translate(198.44,113.00) scale(0.0861,0.1203)" font-size="200" fill="#F7A6AB">200-</text>
<text transform="translate(199.34,113.00) scale(0.0861,0.1203)" font-size="200" fill="#F7A6AB">200-</text>
<path d="M235.10 96.40H239.90V113.00H237.50V98.30H235.10Z" fill="#F7A6AB"/>
<text transform="translate(241.32,113.00) scale(0.0777,0.1203)" font-size="200" fill="#F7A6AB">600nm</text>
<text transform="translate(242.22,113.00) scale(0.0777,0.1203)" font-size="200" fill="#F7A6AB">600nm</text>
<text transform="translate(292.07,110.91) scale(0.0654,0.1070)" font-size="200" fill="#F7A6AB">)</text>
<text transform="translate(292.97,110.91) scale(0.0654,0.1070)" font-size="200" fill="#F7A6AB">)</text>
<text transform="translate(391.73,163.00) scale(0.0734,0.1203)" font-size="200" fill="#FDD6B8">NIR</text>
<text transform="translate(392.63,163.00) scale(0.0734,0.1203)" font-size="200" fill="#FDD6B8">NIR</text>
<text transform="translate(420.90,163.00) scale(0.1000,0.1203)" font-size="200" fill="#FDD6B8">I</text>
<text transform="translate(421.80,163.00) scale(0.1000,0.1203)" font-size="200" fill="#FDD6B8">I</text>
<text transform="translate(431.27,160.91) scale(0.0528,0.1070)" font-size="200" fill="#FDD6B8">(</text>
<text transform="translate(432.17,160.91) scale(0.0528,0.1070)" font-size="200" fill="#FDD6B8">(</text>
<text transform="translate(436.46,163.00) scale(0.0843,0.1203)" font-size="200" fill="#FDD6B8">600-</text>
<text transform="translate(437.36,163.00) scale(0.0843,0.1203)" font-size="200" fill="#FDD6B8">600-</text>
<path d="M472.50 146.40H477.30V163.00H474.90V148.30H472.50Z" fill="#FDD6B8"/>
<text transform="translate(479.17,163.00) scale(0.0788,0.1203)" font-size="200" fill="#FDD6B8">050nm</text>
<text transform="translate(480.07,163.00) scale(0.0788,0.1203)" font-size="200" fill="#FDD6B8">050nm</text>
<text transform="translate(530.27,160.91) scale(0.0673,0.1070)" font-size="200" fill="#FDD6B8">)</text>
<text transform="translate(531.17,160.91) scale(0.0673,0.1070)" font-size="200" fill="#FDD6B8">)</text>
<text transform="translate(122.23,258.00) scale(0.0696,0.1203)" font-size="200" fill="#AE8FB4">VIS-NIR</text>
<text transform="translate(123.13,258.00) scale(0.0696,0.1203)" font-size="200" fill="#AE8FB4">VIS-NIR</text>
<text transform="translate(179.07,255.91) scale(0.0528,0.1070)" font-size="200" fill="#AE8FB4">(</text>
<text transform="translate(179.97,255.91) scale(0.0528,0.1070)" font-size="200" fill="#AE8FB4">(</text>
<text transform="translate(184.39,258.00) scale(0.0819,0.1203)" font-size="200" fill="#AE8FB4">400-</text>
<text transform="translate(185.29,258.00) scale(0.0819,0.1203)" font-size="200" fill="#AE8FB4">400-</text>
<path d="M219.50 241.40H224.30V258.00H221.90V243.30H219.50Z" fill="#AE8FB4"/>
<text transform="translate(226.16,258.00) scale(0.0797,0.1203)" font-size="200" fill="#AE8FB4">000nm</text>
<text transform="translate(227.06,258.00) scale(0.0797,0.1203)" font-size="200" fill="#AE8FB4">000nm</text>
<text transform="translate(277.67,255.91) scale(0.0635,0.1070)" font-size="200" fill="#AE8FB4">)</text>
<text transform="translate(278.57,255.91) scale(0.0635,0.1070)" font-size="200" fill="#AE8FB4">)</text>
<text transform="translate(510.22,303.80) scale(0.0737,0.1196)" font-size="200" fill="#ADB2CC">NIR</text>
<text transform="translate(511.12,303.80) scale(0.0737,0.1196)" font-size="200" fill="#ADB2CC">NIR</text>
<text transform="translate(540.32,303.80) scale(0.0880,0.1196)" font-size="200" fill="#ADB2CC">II</text>
<text transform="translate(541.22,303.80) scale(0.0880,0.1196)" font-size="200" fill="#ADB2CC">II</text>
<text transform="translate(555.07,301.73) scale(0.0528,0.1064)" font-size="200" fill="#ADB2CC">(</text>
<text transform="translate(555.97,301.73) scale(0.0528,0.1064)" font-size="200" fill="#ADB2CC">(</text>
<text transform="translate(559.97,303.80) scale(0.0830,0.1196)" font-size="200" fill="#ADB2CC">750-</text>
<text transform="translate(560.87,303.80) scale(0.0830,0.1196)" font-size="200" fill="#ADB2CC">750-</text>
<path d="M595.60 287.30H600.40V303.80H598.00V289.20H595.60Z" fill="#ADB2CC"/>
<text transform="translate(602.67,303.80) scale(0.0788,0.1196)" font-size="200" fill="#ADB2CC">550nm</text>
<text transform="translate(603.57,303.80) scale(0.0788,0.1196)" font-size="200" fill="#ADB2CC">550nm</text>
<text transform="translate(653.67,301.73) scale(0.0635,0.1064)" font-size="200" fill="#ADB2CC">)</text>
<text transform="translate(654.57,301.73) scale(0.0635,0.1064)" font-size="200" fill="#ADB2CC">)</text>
<text transform="translate(385.56,401.00) scale(0.0672,0.1188)" font-size="200" fill="#F6816F">YAG-BBAR</text>
<text transform="translate(386.46,401.00) scale(0.0672,0.1188)" font-size="200" fill="#F6816F">YAG-BBAR</text>
<text transform="translate(459.82,398.95) scale(0.0566,0.1059)" font-size="200" fill="#F6816F">(</text>
<text transform="translate(460.72,398.95) scale(0.0566,0.1059)" font-size="200" fill="#F6816F">(</text>
<text transform="translate(466.05,401.00) scale(0.0807,0.1188)" font-size="200" fill="#F6816F">500-</text>
<text transform="translate(466.95,401.00) scale(0.0807,0.1188)" font-size="200" fill="#F6816F">500-</text>
<path d="M500.90 384.60H505.70V401.00H503.30V386.50H500.90Z" fill="#F6816F"/>
<path d="M509.90 384.60H514.70V401.00H512.30V386.50H509.90Z" fill="#F6816F"/>
<text transform="translate(516.77,401.00) scale(0.0783,0.1188)" font-size="200" fill="#F6816F">00nm</text>
<text transform="translate(517.67,401.00) scale(0.0783,0.1188)" font-size="200" fill="#F6816F">00nm</text>
<text transform="translate(558.97,398.95) scale(0.0673,0.1059)" font-size="200" fill="#F6816F">)</text>
<text transform="translate(559.87,398.95) scale(0.0673,0.1059)" font-size="200" fill="#F6816F">)</text>
</g>
</svg>
</body></html>
